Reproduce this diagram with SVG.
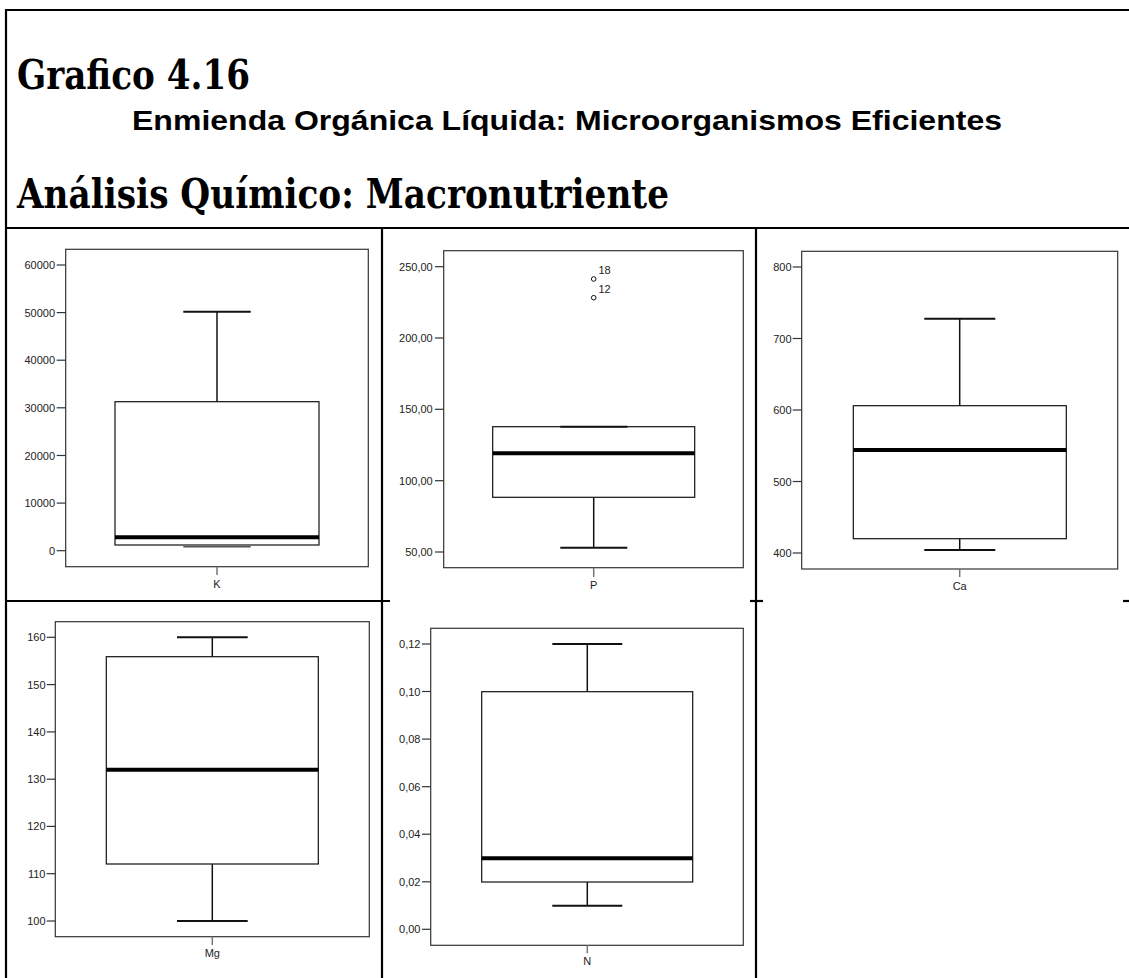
<svg xmlns="http://www.w3.org/2000/svg" width="1129" height="978" viewBox="0 0 1129 978">
<style>
.frame{fill:none;stroke:#000;stroke-width:2.2}
.pf{fill:#fff;stroke:#333;stroke-width:1.2}
.box{fill:none;stroke:#111;stroke-width:1.2}
.wh{stroke:#111;stroke-width:1.5}
.cap{stroke:#111;stroke-width:2}
.med{stroke:#000;stroke-width:4}
.tk{stroke:#333;stroke-width:1.2}
.xt{stroke:#777;stroke-width:1.5}
.lbl{font-family:"Liberation Sans",Arial,sans-serif;font-size:11px;fill:#222}
.r{text-anchor:end}
.c{text-anchor:middle}
.h1{font-family:"DejaVu Serif","Liberation Serif",serif;font-weight:bold;font-size:41px;fill:#000}
.h2{font-family:"Liberation Sans",Arial,sans-serif;font-weight:bold;font-size:28px;fill:#000}
</style>
<rect width="1129" height="978" fill="#fff"/>
<g id="frame">
<line class="frame" x1="6" y1="10" x2="1129" y2="10"/>
<line class="frame" x1="6" y1="9" x2="6" y2="978"/>
<line class="frame" x1="6" y1="228" x2="1129" y2="228"/>
<line class="frame" x1="382" y1="228" x2="382" y2="978"/>
<line class="frame" x1="756" y1="228" x2="756" y2="978"/>
<line class="frame" x1="6" y1="601" x2="390" y2="601"/>
<line class="frame" x1="750" y1="601" x2="763" y2="601"/>
<line class="frame" x1="1123" y1="601" x2="1129" y2="601"/>
</g>
<g id="header">
<text class="h1" x="17" y="89" textLength="233" lengthAdjust="spacingAndGlyphs">Grafico 4.16</text>
<text class="h2" x="132" y="130" textLength="870" lengthAdjust="spacingAndGlyphs">Enmienda Orgánica Líquida: Microorganismos Eficientes</text>
<text class="h1" x="17" y="208" textLength="652" lengthAdjust="spacingAndGlyphs">Análisis Químico: Macronutriente</text>
</g>
<g id="plot-K">
<rect class="pf" x="65.7" y="249.3" width="302.6" height="317.4"/>
<g class="tk">
<line x1="56.7" y1="265" x2="65.7" y2="265"/>
<line x1="56.7" y1="312.6" x2="65.7" y2="312.6"/>
<line x1="56.7" y1="360.2" x2="65.7" y2="360.2"/>
<line x1="56.7" y1="407.8" x2="65.7" y2="407.8"/>
<line x1="56.7" y1="455.5" x2="65.7" y2="455.5"/>
<line x1="56.7" y1="503.1" x2="65.7" y2="503.1"/>
<line x1="56.7" y1="550.7" x2="65.7" y2="550.7"/>
</g>
<g class="lbl r">
<text x="55" y="269">60000</text>
<text x="55" y="316.6">50000</text>
<text x="55" y="364.2">40000</text>
<text x="55" y="411.8">30000</text>
<text x="55" y="459.5">20000</text>
<text x="55" y="507.1">10000</text>
<text x="55" y="554.7">0</text>
</g>
<line class="wh" x1="217" y1="311.7" x2="217" y2="401.7"/>
<line class="cap" x1="183.3" y1="311.7" x2="250.7" y2="311.7"/>
<line x1="183.3" y1="546.8" x2="250.7" y2="546.8" stroke="#555" stroke-width="1.6"/>
<rect class="box" x="115" y="401.7" width="204" height="143.3"/>
<line class="med" x1="115" y1="537.3" x2="319" y2="537.3"/>
<line class="xt" x1="217" y1="566.7" x2="217" y2="575"/>
<text class="lbl c" x="217" y="588">K</text>
</g>
<g id="plot-P">
<rect class="pf" x="443.7" y="250.7" width="299.6" height="317"/>
<g class="tk">
<line x1="435" y1="266.7" x2="443.7" y2="266.7"/>
<line x1="435" y1="338" x2="443.7" y2="338"/>
<line x1="435" y1="409.3" x2="443.7" y2="409.3"/>
<line x1="435" y1="480.7" x2="443.7" y2="480.7"/>
<line x1="435" y1="552" x2="443.7" y2="552"/>
</g>
<g class="lbl r">
<text x="432.7" y="270.7">250,00</text>
<text x="432.7" y="342">200,00</text>
<text x="432.7" y="413.3">150,00</text>
<text x="432.7" y="484.7">100,00</text>
<text x="432.7" y="556">50,00</text>
</g>
<line class="wh" x1="593.7" y1="497.3" x2="593.7" y2="547.7"/>
<line class="cap" x1="560.3" y1="547.7" x2="627.3" y2="547.7"/>
<rect class="box" x="492.7" y="426.7" width="202" height="70.6"/>
<line class="cap" x1="560.3" y1="426.7" x2="627.3" y2="426.7"/>
<line class="med" x1="492.7" y1="453.3" x2="694.7" y2="453.3"/>
<circle cx="593.7" cy="279" r="2.3" fill="#fff" stroke="#111" stroke-width="1"/>
<circle cx="593.7" cy="297.7" r="2.3" fill="#fff" stroke="#111" stroke-width="1"/>
<text class="lbl" x="598.5" y="274">18</text>
<text class="lbl" x="598.5" y="292.5">12</text>
<line class="xt" x1="593.7" y1="567.7" x2="593.7" y2="577"/>
<text class="lbl c" x="593.7" y="589">P</text>
</g>
<g id="plot-Ca">
<rect class="pf" x="801.7" y="251.3" width="316" height="317.7"/>
<g class="tk">
<line x1="792.7" y1="267" x2="801.7" y2="267"/>
<line x1="792.7" y1="338.5" x2="801.7" y2="338.5"/>
<line x1="792.7" y1="410" x2="801.7" y2="410"/>
<line x1="792.7" y1="481.5" x2="801.7" y2="481.5"/>
<line x1="792.7" y1="553" x2="801.7" y2="553"/>
</g>
<g class="lbl r">
<text x="791.5" y="271">800</text>
<text x="791.5" y="342.5">700</text>
<text x="791.5" y="414">600</text>
<text x="791.5" y="485.5">500</text>
<text x="791.5" y="557">400</text>
</g>
<line class="wh" x1="959.7" y1="318.7" x2="959.7" y2="405.7"/>
<line class="cap" x1="924.3" y1="318.7" x2="995.3" y2="318.7"/>
<line class="wh" x1="959.7" y1="538.7" x2="959.7" y2="550"/>
<line class="cap" x1="924.3" y1="550" x2="995.3" y2="550"/>
<rect class="box" x="853.3" y="405.7" width="213" height="133"/>
<line class="med" x1="853.3" y1="450" x2="1066.3" y2="450"/>
<line class="xt" x1="959.7" y1="569" x2="959.7" y2="577"/>
<text class="lbl c" x="959.7" y="590">Ca</text>
</g>
<g id="plot-Mg">
<rect class="pf" x="55.3" y="621.7" width="314" height="315"/>
<g class="tk">
<line x1="46.7" y1="637.3" x2="55.3" y2="637.3"/>
<line x1="46.7" y1="684.6" x2="55.3" y2="684.6"/>
<line x1="46.7" y1="731.9" x2="55.3" y2="731.9"/>
<line x1="46.7" y1="779.2" x2="55.3" y2="779.2"/>
<line x1="46.7" y1="826.4" x2="55.3" y2="826.4"/>
<line x1="46.7" y1="873.7" x2="55.3" y2="873.7"/>
<line x1="46.7" y1="921" x2="55.3" y2="921"/>
</g>
<g class="lbl r">
<text x="45.5" y="641.3">160</text>
<text x="45.5" y="688.6">150</text>
<text x="45.5" y="735.9">140</text>
<text x="45.5" y="783.2">130</text>
<text x="45.5" y="830.4">120</text>
<text x="45.5" y="877.7">110</text>
<text x="45.5" y="925">100</text>
</g>
<line class="wh" x1="212.3" y1="637.3" x2="212.3" y2="656.7"/>
<line class="cap" x1="177" y1="637.3" x2="247.7" y2="637.3"/>
<line class="wh" x1="212.3" y1="864" x2="212.3" y2="921"/>
<line class="cap" x1="177" y1="921" x2="247.7" y2="921"/>
<rect class="box" x="106.3" y="656.7" width="212" height="207.3"/>
<line class="med" x1="106.3" y1="769.7" x2="318.3" y2="769.7"/>
<line class="xt" x1="212.3" y1="936.7" x2="212.3" y2="945"/>
<text class="lbl c" x="212.3" y="956.5">Mg</text>
</g>
<g id="plot-N">
<rect class="pf" x="430.7" y="628.3" width="312.6" height="317"/>
<g class="tk">
<line x1="422" y1="644" x2="430.7" y2="644"/>
<line x1="422" y1="691.5" x2="430.7" y2="691.5"/>
<line x1="422" y1="739.1" x2="430.7" y2="739.1"/>
<line x1="422" y1="786.7" x2="430.7" y2="786.7"/>
<line x1="422" y1="834.2" x2="430.7" y2="834.2"/>
<line x1="422" y1="881.8" x2="430.7" y2="881.8"/>
<line x1="422" y1="929.3" x2="430.7" y2="929.3"/>
</g>
<g class="lbl r">
<text x="420.5" y="648">0,12</text>
<text x="420.5" y="695.5">0,10</text>
<text x="420.5" y="743.1">0,08</text>
<text x="420.5" y="790.7">0,06</text>
<text x="420.5" y="838.2">0,04</text>
<text x="420.5" y="885.8">0,02</text>
<text x="420.5" y="933.3">0,00</text>
</g>
<line class="wh" x1="587.3" y1="644" x2="587.3" y2="691.7"/>
<line class="cap" x1="552.3" y1="644" x2="622.3" y2="644"/>
<line class="wh" x1="587.3" y1="882" x2="587.3" y2="905.7"/>
<line class="cap" x1="552.3" y1="905.7" x2="622.3" y2="905.7"/>
<rect class="box" x="481.7" y="691.7" width="211" height="190.3"/>
<line class="med" x1="481.7" y1="858.3" x2="692.7" y2="858.3"/>
<line class="xt" x1="587.3" y1="945.3" x2="587.3" y2="953.3"/>
<text class="lbl c" x="587.3" y="965">N</text>
</g>
</svg>
